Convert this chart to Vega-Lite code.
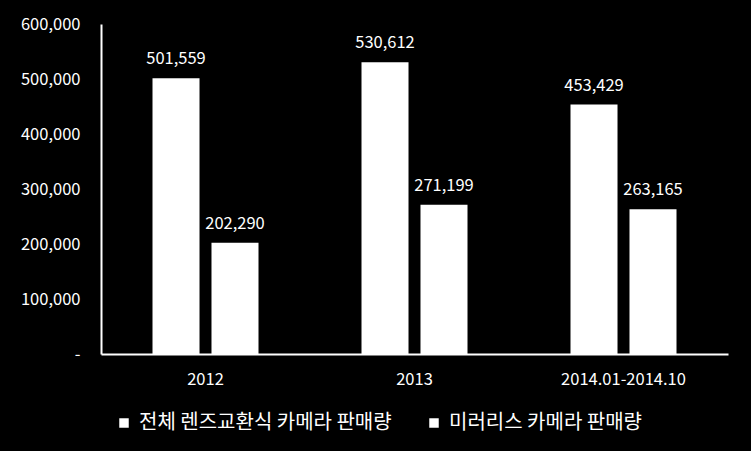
{
  "$schema": "https://vega.github.io/schema/vega-lite/v6.json",
  "autosize": {"type": "none"},
  "padding": {"left": 101, "top": 24, "right": 23, "bottom": 97},
  "width": 627,
  "height": 330,
  "background": "#000000",
  "config": {
    "view": {"stroke": null},
    "font": "Noto Sans CJK KR"
  },
  "data": {
    "values": [
      {"period": "2012", "series": "전체 렌즈교환식 카메라 판매량", "value": 501559},
      {"period": "2012", "series": "미러리스 카메라 판매량", "value": 202290},
      {"period": "2013", "series": "전체 렌즈교환식 카메라 판매량", "value": 530612},
      {"period": "2013", "series": "미러리스 카메라 판매량", "value": 271199},
      {"period": "2014.01-2014.10", "series": "전체 렌즈교환식 카메라 판매량", "value": 453429},
      {"period": "2014.01-2014.10", "series": "미러리스 카메라 판매량", "value": 263165}
    ]
  },
  "encoding": {
    "x": {
      "field": "period", "type": "nominal", "sort": null,
      "scale": {"paddingInner": 0, "paddingOuter": 0},
      "axis": {
        "title": null, "labelAngle": 0, "labelColor": "#ffffff", "labelFontSize": 16.5,
        "domainColor": "#ffffff", "domainWidth": 2, "ticks": false, "labelPadding": 17
      }
    },
    "xOffset": {
      "field": "series", "type": "nominal",
      "sort": ["전체 렌즈교환식 카메라 판매량", "미러리스 카메라 판매량"],
      "scale": {"paddingInner": 0.203, "paddingOuter": 0.873}
    },
    "y": {
      "field": "value", "type": "quantitative",
      "scale": {"domain": [0, 600000], "nice": false},
      "axis": {
        "title": null, "values": [0, 100000, 200000, 300000, 400000, 500000, 600000],
        "labelExpr": "datum.value == 0 ? '-' : format(datum.value, ',')",
        "labelColor": "#ffffff", "labelFontSize": 16.5, "grid": false, "ticks": false,
        "labelPadding": 21, "domainColor": "#ffffff", "domainWidth": 2
      }
    }
  },
  "layer": [
    {
      "mark": {"type": "bar"},
      "encoding": {
        "color": {
          "field": "series", "type": "nominal",
          "sort": ["전체 렌즈교환식 카메라 판매량", "미러리스 카메라 판매량"],
          "scale": {"range": ["#ffffff", "#ffffff"]},
          "legend": {
            "title": null, "orient": "none", "direction": "horizontal",
            "legendX": 13, "legendY": 389,
            "symbolType": "square", "symbolSize": 90, "symbolStrokeWidth": 0,
            "labelColor": "#ffffff", "labelFontSize": 20, "labelLimit": 400,
            "columnPadding": 32, "labelOffset": 5
          }
        }
      }
    },
    {
      "mark": {"type": "text", "dy": -19, "color": "#ffffff", "fontSize": 16.5},
      "encoding": {
        "text": {"field": "value", "type": "quantitative", "format": ","}
      }
    }
  ]
}
